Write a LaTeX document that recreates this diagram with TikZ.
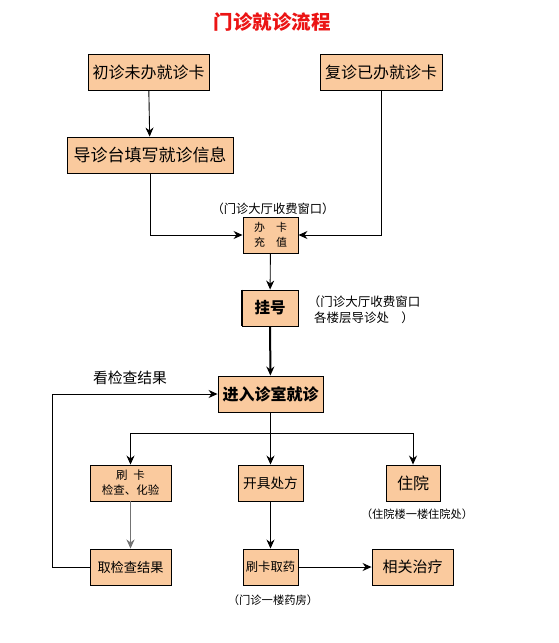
\documentclass[tikz,border=0pt]{standalone}
\usepackage{fontspec}
\setmainfont{Noto Sans CJK SC}
\usetikzlibrary{arrows.meta}
\definecolor{peach}{RGB}{250,202,158}
\definecolor{titlered}{RGB}{235,20,20}
\tikzset{
  box/.style={draw=black, fill=peach, line width=0.9pt, inner sep=1pt, align=center, minimum height=36pt},
  conn/.style={line width=0.9pt, -{Stealth[length=9pt,width=8pt]}},
  plain/.style={line width=0.9pt},
  lab/.style={font=\fontsize{11}{14}\selectfont, align=center, inner sep=0pt}
}
\begin{document}
\begin{tikzpicture}[x=1pt,y=-1pt]
\useasboundingbox (0,0) rectangle (559,643);
\node[text=titlered, font=\fontsize{19.5}{22}\selectfont\bfseries] (title) at (272,22) {门诊就诊流程};

\node[box, minimum width=121pt, font=\fontsize{16}{18}\selectfont] (b1) at (148.5,72) {初诊未办就诊卡};
\node[box, minimum width=122pt, font=\fontsize{16}{18}\selectfont] (b2) at (381,72) {复诊已办就诊卡};
\node[box, minimum width=166pt, font=\fontsize{17}{18}\selectfont] (b3) at (150,155) {导诊台填写就诊信息};
\node[box, minimum width=55pt, font=\fontsize{11}{15}\selectfont] (b4) at (270.5,235) {办\quad 卡\\充\quad 值};
\node[lab, font=\fontsize{12.3}{14}\selectfont] (l1) at (273,209) {（门诊大厅收费窗口）};
\node[box, minimum width=56pt, font=\fontsize{15.5}{18}\selectfont\bfseries] (b5) at (270,308) {挂号};
\draw[line width=2pt] (b5.north west) -- (b5.south west);
\node[lab, font=\fontsize{12.5}{16}\selectfont] (l2) at (364,310) {（门诊大厅收费窗口\\各楼层导诊处\quad ）};
\node[box, minimum width=105pt, font=\fontsize{16}{18}\selectfont\bfseries] (b6) at (270.5,394) {进入诊室就诊};
\node[lab, font=\fontsize{14.8}{16}\selectfont] (l3) at (130,378) {看检查结果};

\node[box, minimum width=81pt, font=\fontsize{11.5}{15}\selectfont] (b7) at (130.5,483) {刷\enspace 卡\\检查、化验};
\node[box, minimum width=65pt, font=\fontsize{13.7}{16}\selectfont] (b8) at (270.5,483) {开具处方};
\node[box, minimum width=54pt, font=\fontsize{16}{18}\selectfont] (b9) at (413,483) {住院};
\node[lab, font=\fontsize{11.2}{14}\selectfont] (l4) at (417,514) {（住院楼一楼住院处）};

\node[box, minimum width=81pt, font=\fontsize{13.2}{16}\selectfont] (b10) at (130.5,567) {取检查结果};
\node[box, minimum width=55pt, font=\fontsize{12.3}{16}\selectfont] (b11) at (270.5,567) {刷卡取药};
\node[box, minimum width=81pt, font=\fontsize{15}{18}\selectfont] (b12) at (412.5,567) {相关治疗};
\node[lab, font=\fontsize{11.3}{14}\selectfont] (l5) at (273,600) {（门诊一楼药房）};

\coordinate (br) at (270.5,433);
\coordinate (lp) at (52,567);

\draw[conn] (b1) -- (b3);
\draw[conn] (b2.south) |- (b4.east);
\draw[conn] (b3.south) |- (b4.west);
\draw[conn] (b4) -- (b5);
\draw[conn, line width=2pt] (b5) -- (b6);
\draw[conn] (b6) -- (b8);
\draw[conn] (br) -| (b7.north);
\draw[conn] (br) -| (b9.north);
\draw[conn, draw=black!55, line width=1.8pt] (b7) -- (b10);
\draw[conn] (b8) -- (b11);
\draw[conn] (b11) -- (b12);
\draw[conn] (b10.west) -- (lp) |- (b6.west);
\end{tikzpicture}
\end{document}
